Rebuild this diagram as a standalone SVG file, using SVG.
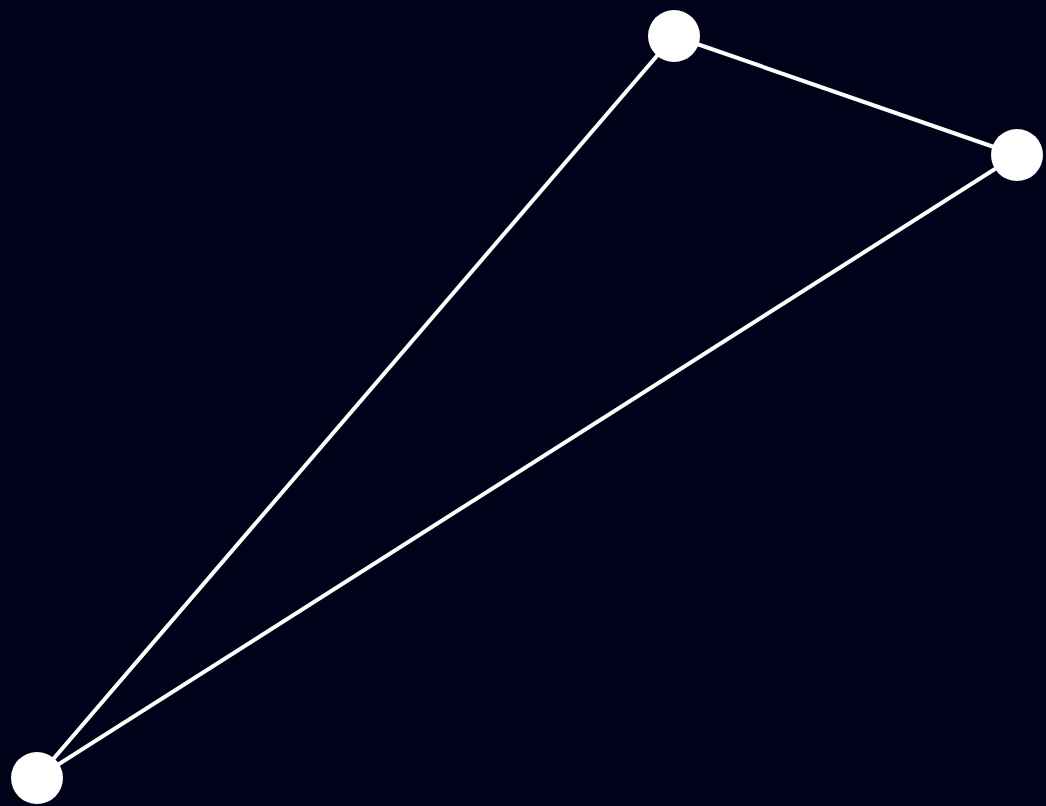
<svg xmlns="http://www.w3.org/2000/svg" width="1046" height="806" viewBox="0 0 1046 806">
<style>
.edge{stroke:#ffffff;stroke-width:4;fill:none}
.node{fill:#ffffff}
</style>
<rect width="1046" height="806" fill="#01011a"/>
<g id="connectors">
<line class="edge" x1="674" y1="36" x2="1017" y2="155"/>
<line class="edge" x1="674" y1="36" x2="37" y2="778"/>
<line class="edge" x1="1017" y1="155" x2="37" y2="778"/>
</g>
<g id="node-a"><circle class="node" cx="674" cy="36" r="26"/></g>
<g id="node-b"><circle class="node" cx="1017" cy="155" r="26"/></g>
<g id="node-c"><circle class="node" cx="37" cy="778" r="26"/></g>
</svg>
